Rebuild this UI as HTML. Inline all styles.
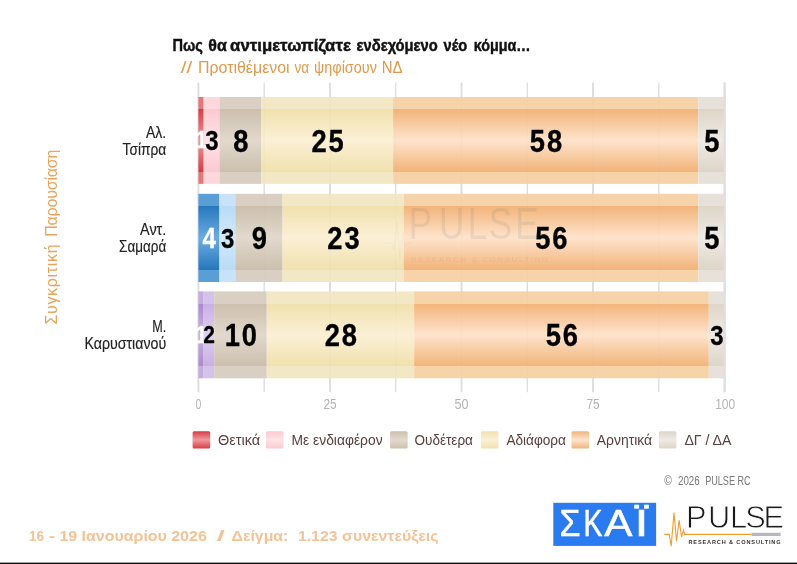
<!DOCTYPE html>
<html lang="el">
<head>
<meta charset="utf-8">
<title>Πως θα αντιμετωπίζατε ενδεχόμενο νέο κόμμα…</title>
<style>
html,body{margin:0;padding:0;background:#fff;}
body{width:797px;height:564px;overflow:hidden;}
svg{display:block;}
text{font-family:"Liberation Sans",sans-serif;}
.b{font-weight:bold;}
</style>
</head>
<body>
<svg width="797" height="564" viewBox="0 0 797 564">
<defs>
<linearGradient id="g-red" x1="0" y1="0" x2="0" y2="1"><stop offset="0" stop-color="#e4777a"/><stop offset="14.14%" stop-color="#e4777a"/><stop offset="14.14%" stop-color="#d63c44"/><stop offset="36%" stop-color="#e57478"/><stop offset="50%" stop-color="#ef9a9a"/><stop offset="64%" stop-color="#e57478"/><stop offset="85.86%" stop-color="#d63c44"/><stop offset="85.86%" stop-color="#e4777a"/><stop offset="100%" stop-color="#e4777a"/></linearGradient>
<linearGradient id="s-red" x1="0" y1="0" x2="0" y2="1"><stop offset="0" stop-color="#d63c44"/><stop offset="50%" stop-color="#ef9a9a"/><stop offset="100%" stop-color="#d63c44"/></linearGradient>
<linearGradient id="g-pink" x1="0" y1="0" x2="0" y2="1"><stop offset="0" stop-color="#fcd8dd"/><stop offset="14.14%" stop-color="#fcd8dd"/><stop offset="14.14%" stop-color="#fbc9d1"/><stop offset="36%" stop-color="#fdd9de"/><stop offset="50%" stop-color="#fee3e7"/><stop offset="64%" stop-color="#fdd9de"/><stop offset="85.86%" stop-color="#fbc9d1"/><stop offset="85.86%" stop-color="#fcd8dd"/><stop offset="100%" stop-color="#fcd8dd"/></linearGradient>
<linearGradient id="s-pink" x1="0" y1="0" x2="0" y2="1"><stop offset="0" stop-color="#fbc9d1"/><stop offset="50%" stop-color="#fee3e7"/><stop offset="100%" stop-color="#fbc9d1"/></linearGradient>
<linearGradient id="g-beige" x1="0" y1="0" x2="0" y2="1"><stop offset="0" stop-color="#d9d0c3"/><stop offset="14.14%" stop-color="#d9d0c3"/><stop offset="14.14%" stop-color="#ccbfad"/><stop offset="36%" stop-color="#d9cfc0"/><stop offset="50%" stop-color="#e2d9cd"/><stop offset="64%" stop-color="#d9cfc0"/><stop offset="85.86%" stop-color="#ccbfad"/><stop offset="85.86%" stop-color="#d9d0c3"/><stop offset="100%" stop-color="#d9d0c3"/></linearGradient>
<linearGradient id="s-beige" x1="0" y1="0" x2="0" y2="1"><stop offset="0" stop-color="#ccbfad"/><stop offset="50%" stop-color="#e2d9cd"/><stop offset="100%" stop-color="#ccbfad"/></linearGradient>
<linearGradient id="g-cream" x1="0" y1="0" x2="0" y2="1"><stop offset="0" stop-color="#f3e8c6"/><stop offset="14.14%" stop-color="#f3e8c6"/><stop offset="14.14%" stop-color="#f0e1ae"/><stop offset="36%" stop-color="#f7eac6"/><stop offset="50%" stop-color="#fbf0d6"/><stop offset="64%" stop-color="#f7eac6"/><stop offset="85.86%" stop-color="#f0e1ae"/><stop offset="85.86%" stop-color="#f3e8c6"/><stop offset="100%" stop-color="#f3e8c6"/></linearGradient>
<linearGradient id="s-cream" x1="0" y1="0" x2="0" y2="1"><stop offset="0" stop-color="#f0e1ae"/><stop offset="50%" stop-color="#fbf0d6"/><stop offset="100%" stop-color="#f0e1ae"/></linearGradient>
<linearGradient id="g-orange" x1="0" y1="0" x2="0" y2="1"><stop offset="0" stop-color="#f6d3a8"/><stop offset="14.14%" stop-color="#f6d3a8"/><stop offset="14.14%" stop-color="#f2b47a"/><stop offset="36%" stop-color="#f9d1ac"/><stop offset="50%" stop-color="#fee4cd"/><stop offset="64%" stop-color="#f9d1ac"/><stop offset="85.86%" stop-color="#f2b47a"/><stop offset="85.86%" stop-color="#f6d3a8"/><stop offset="100%" stop-color="#f6d3a8"/></linearGradient>
<linearGradient id="s-orange" x1="0" y1="0" x2="0" y2="1"><stop offset="0" stop-color="#f2b47a"/><stop offset="50%" stop-color="#fee4cd"/><stop offset="100%" stop-color="#f2b47a"/></linearGradient>
<linearGradient id="g-lgray" x1="0" y1="0" x2="0" y2="1"><stop offset="0" stop-color="#e8e1da"/><stop offset="14.14%" stop-color="#e8e1da"/><stop offset="14.14%" stop-color="#ddd5c8"/><stop offset="36%" stop-color="#e8e2d9"/><stop offset="50%" stop-color="#efeae4"/><stop offset="64%" stop-color="#e8e2d9"/><stop offset="85.86%" stop-color="#ddd5c8"/><stop offset="85.86%" stop-color="#e8e1da"/><stop offset="100%" stop-color="#e8e1da"/></linearGradient>
<linearGradient id="s-lgray" x1="0" y1="0" x2="0" y2="1"><stop offset="0" stop-color="#ddd5c8"/><stop offset="50%" stop-color="#efeae4"/><stop offset="100%" stop-color="#ddd5c8"/></linearGradient>
<linearGradient id="g-blue" x1="0" y1="0" x2="0" y2="1"><stop offset="0" stop-color="#5a9ed6"/><stop offset="14.14%" stop-color="#5a9ed6"/><stop offset="14.14%" stop-color="#2878bd"/><stop offset="36%" stop-color="#5197d3"/><stop offset="50%" stop-color="#6cabe2"/><stop offset="64%" stop-color="#5197d3"/><stop offset="85.86%" stop-color="#2878bd"/><stop offset="85.86%" stop-color="#5a9ed6"/><stop offset="100%" stop-color="#5a9ed6"/></linearGradient>
<linearGradient id="s-blue" x1="0" y1="0" x2="0" y2="1"><stop offset="0" stop-color="#2878bd"/><stop offset="50%" stop-color="#6cabe2"/><stop offset="100%" stop-color="#2878bd"/></linearGradient>
<linearGradient id="g-lblue" x1="0" y1="0" x2="0" y2="1"><stop offset="0" stop-color="#c8e3f9"/><stop offset="14.14%" stop-color="#c8e3f9"/><stop offset="14.14%" stop-color="#b9dbf7"/><stop offset="36%" stop-color="#c9e3f9"/><stop offset="50%" stop-color="#d3e9fb"/><stop offset="64%" stop-color="#c9e3f9"/><stop offset="85.86%" stop-color="#b9dbf7"/><stop offset="85.86%" stop-color="#c8e3f9"/><stop offset="100%" stop-color="#c8e3f9"/></linearGradient>
<linearGradient id="s-lblue" x1="0" y1="0" x2="0" y2="1"><stop offset="0" stop-color="#b9dbf7"/><stop offset="50%" stop-color="#d3e9fb"/><stop offset="100%" stop-color="#b9dbf7"/></linearGradient>
<linearGradient id="g-purple" x1="0" y1="0" x2="0" y2="1"><stop offset="0" stop-color="#c3addf"/><stop offset="14.14%" stop-color="#c3addf"/><stop offset="14.14%" stop-color="#a98bce"/><stop offset="36%" stop-color="#bda4da"/><stop offset="50%" stop-color="#cab4e2"/><stop offset="64%" stop-color="#bda4da"/><stop offset="85.86%" stop-color="#a98bce"/><stop offset="85.86%" stop-color="#c3addf"/><stop offset="100%" stop-color="#c3addf"/></linearGradient>
<linearGradient id="s-purple" x1="0" y1="0" x2="0" y2="1"><stop offset="0" stop-color="#a98bce"/><stop offset="50%" stop-color="#cab4e2"/><stop offset="100%" stop-color="#a98bce"/></linearGradient>
<linearGradient id="g-lpurple" x1="0" y1="0" x2="0" y2="1"><stop offset="0" stop-color="#d5c2ea"/><stop offset="14.14%" stop-color="#d5c2ea"/><stop offset="14.14%" stop-color="#c9afe3"/><stop offset="36%" stop-color="#d7c3eb"/><stop offset="50%" stop-color="#e0d0f0"/><stop offset="64%" stop-color="#d7c3eb"/><stop offset="85.86%" stop-color="#c9afe3"/><stop offset="85.86%" stop-color="#d5c2ea"/><stop offset="100%" stop-color="#d5c2ea"/></linearGradient>
<linearGradient id="s-lpurple" x1="0" y1="0" x2="0" y2="1"><stop offset="0" stop-color="#c9afe3"/><stop offset="50%" stop-color="#e0d0f0"/><stop offset="100%" stop-color="#c9afe3"/></linearGradient>
</defs>
<rect x="0" y="0" width="797" height="564" fill="#ffffff"/>
<g class="b" font-size="16.6" fill="#111" stroke="#111" stroke-width="0.45">
<text y="50.8"><tspan x="172.4" textLength="30.4" lengthAdjust="spacingAndGlyphs">Πως</tspan> <tspan x="208.3" textLength="18.5" lengthAdjust="spacingAndGlyphs">θα</tspan> <tspan x="230.1" textLength="120.8" lengthAdjust="spacingAndGlyphs">αντιμετωπίζατε</tspan> <tspan x="356.5" textLength="81.3" lengthAdjust="spacingAndGlyphs">ενδεχόμενο</tspan> <tspan x="443.5" textLength="23.8" lengthAdjust="spacingAndGlyphs">νέο</tspan> <tspan x="473.7" textLength="56.9" lengthAdjust="spacingAndGlyphs">κόμμα…</tspan></text>
</g>
<text y="72.7" font-size="16.5" fill="#e09a4c"><tspan x="180.8" textLength="11.5" lengthAdjust="spacingAndGlyphs">//</tspan> <tspan x="198.0" textLength="91.6" lengthAdjust="spacingAndGlyphs">Προτιθέμενοι</tspan> <tspan x="294.4" textLength="14.7" lengthAdjust="spacingAndGlyphs">να</tspan> <tspan x="314.0" textLength="62.9" lengthAdjust="spacingAndGlyphs">ψηφίσουν</tspan> <tspan x="381.7" textLength="20.8" lengthAdjust="spacingAndGlyphs">ΝΔ</tspan></text>
<g stroke="#dddde2">
<line x1="198.4" y1="82.6" x2="198.4" y2="392.3" stroke-width="1.9"/>
<line x1="264.2" y1="82.6" x2="264.2" y2="392.3" stroke-width="1.3"/>
<line x1="330.0" y1="82.6" x2="330.0" y2="392.3" stroke-width="1.9"/>
<line x1="395.7" y1="82.6" x2="395.7" y2="392.3" stroke-width="1.3"/>
<line x1="461.5" y1="82.6" x2="461.5" y2="392.3" stroke-width="1.9"/>
<line x1="527.3" y1="82.6" x2="527.3" y2="392.3" stroke-width="1.3"/>
<line x1="593.0" y1="82.6" x2="593.0" y2="392.3" stroke-width="1.9"/>
<line x1="658.8" y1="82.6" x2="658.8" y2="392.3" stroke-width="1.3"/>
<line x1="724.6" y1="82.6" x2="724.6" y2="392.3" stroke-width="1.9"/>
</g>
<rect x="198.40" y="97.0" width="5.26" height="86.9" fill="url(#g-red)"/>
<rect x="203.66" y="97.0" width="15.79" height="86.9" fill="url(#g-pink)"/>
<rect x="219.45" y="97.0" width="42.10" height="86.9" fill="url(#g-beige)"/>
<rect x="261.54" y="97.0" width="131.55" height="86.9" fill="url(#g-cream)"/>
<rect x="393.09" y="97.0" width="305.20" height="86.9" fill="url(#g-orange)"/>
<rect x="698.29" y="97.0" width="26.31" height="86.9" fill="url(#g-lgray)"/>
<rect x="198.40" y="193.8" width="21.05" height="88.2" fill="url(#g-blue)"/>
<rect x="219.45" y="193.8" width="15.79" height="88.2" fill="url(#g-lblue)"/>
<rect x="235.23" y="193.8" width="47.36" height="88.2" fill="url(#g-beige)"/>
<rect x="282.59" y="193.8" width="121.03" height="88.2" fill="url(#g-cream)"/>
<rect x="403.62" y="193.8" width="294.67" height="88.2" fill="url(#g-orange)"/>
<rect x="698.29" y="193.8" width="26.31" height="88.2" fill="url(#g-lgray)"/>
<rect x="198.40" y="291.4" width="5.26" height="86.9" fill="url(#g-purple)"/>
<rect x="203.66" y="291.4" width="10.52" height="86.9" fill="url(#g-lpurple)"/>
<rect x="214.19" y="291.4" width="52.62" height="86.9" fill="url(#g-beige)"/>
<rect x="266.81" y="291.4" width="147.34" height="86.9" fill="url(#g-cream)"/>
<rect x="414.14" y="291.4" width="294.67" height="86.9" fill="url(#g-orange)"/>
<rect x="708.81" y="291.4" width="15.79" height="86.9" fill="url(#g-lgray)"/>
<line x1="724.6" y1="82.6" x2="724.6" y2="392.3" stroke="#dedee3" stroke-width="2"/>
<g stroke="#b8b8cc" stroke-opacity="0.07">
<line x1="264.2" y1="97" x2="264.2" y2="378" stroke-width="1"/>
<line x1="330.0" y1="97" x2="330.0" y2="378" stroke-width="1"/>
<line x1="395.7" y1="97" x2="395.7" y2="378" stroke-width="1"/>
<line x1="461.5" y1="97" x2="461.5" y2="378" stroke-width="1"/>
<line x1="527.3" y1="97" x2="527.3" y2="378" stroke-width="1"/>
<line x1="593.0" y1="97" x2="593.0" y2="378" stroke-width="1"/>
<line x1="658.8" y1="97" x2="658.8" y2="378" stroke-width="1"/>
</g>
<g fill="#666" opacity="0.11">
<text transform="translate(0,238.9) scale(0.8,1)" font-size="43.7" x="511 548.7 584.8 611.1 644.1">PULSE</text>
<text x="411" y="261.5" font-size="7.6" textLength="137" lengthAdjust="spacing">RESEARCH &amp; CONSULTING</text>
<polyline points="385,243 392,243 394,250 397,222 400,258 403,232 405,246 407,243 411,243" fill="none" stroke="#666" stroke-width="0.6" opacity="0.6"/>
</g>
<g class="b" font-size="32.2" text-anchor="middle" stroke-width="0.35" letter-spacing="2.3">
<text transform="translate(202.0,148.4) scale(0.619,0.73)" fill="#ffffff" stroke="#ffffff">1</text>
<text transform="translate(212.7,150.1) scale(0.746,0.88)" fill="#000000" stroke="#000000">3</text>
<text transform="translate(241.8,151.5) scale(0.848,1.0)" fill="#000000" stroke="#000000">8</text>
<text transform="translate(328.6,151.5) scale(0.848,1.0)" fill="#000000" stroke="#000000">25</text>
<text transform="translate(547.0,151.5) scale(0.848,1.0)" fill="#000000" stroke="#000000">58</text>
<text transform="translate(712.7,151.5) scale(0.848,1.0)" fill="#000000" stroke="#000000">5</text>
<text transform="translate(210.1,247.7) scale(0.755,0.89)" fill="#ffffff" stroke="#ffffff">4</text>
<text transform="translate(228.5,247.6) scale(0.746,0.88)" fill="#000000" stroke="#000000">3</text>
<text transform="translate(260.2,248.9) scale(0.848,1.0)" fill="#000000" stroke="#000000">9</text>
<text transform="translate(344.4,248.9) scale(0.848,1.0)" fill="#000000" stroke="#000000">23</text>
<text transform="translate(552.3,248.9) scale(0.848,1.0)" fill="#000000" stroke="#000000">56</text>
<text transform="translate(712.7,248.9) scale(0.848,1.0)" fill="#000000" stroke="#000000">5</text>
<text transform="translate(202.0,342.8) scale(0.619,0.73)" fill="#ffffff" stroke="#ffffff">1</text>
<text transform="translate(209.9,343.3) scale(0.653,0.77)" fill="#000000" stroke="#000000">2</text>
<text transform="translate(241.8,345.9) scale(0.848,1.0)" fill="#000000" stroke="#000000">10</text>
<text transform="translate(341.8,345.9) scale(0.848,1.0)" fill="#000000" stroke="#000000">28</text>
<text transform="translate(562.8,345.9) scale(0.848,1.0)" fill="#000000" stroke="#000000">56</text>
<text transform="translate(717.9,344.5) scale(0.746,0.88)" fill="#000000" stroke="#000000">3</text>
</g>
<g font-size="15.8" fill="#222" text-anchor="end" stroke="#222" stroke-width="0.15">
<text x="166.2" y="138" textLength="20.1" lengthAdjust="spacingAndGlyphs">Αλ.</text>
<text x="166.2" y="155.3" textLength="43.7" lengthAdjust="spacingAndGlyphs">Τσίπρα</text>
<text x="166.2" y="235" textLength="26.1" lengthAdjust="spacingAndGlyphs">Αντ.</text>
<text x="166.2" y="252.3" textLength="47.1" lengthAdjust="spacingAndGlyphs">Σαμαρά</text>
<text x="166.2" y="332" textLength="14" lengthAdjust="spacingAndGlyphs">Μ.</text>
<text x="166.2" y="349.3" textLength="81.8" lengthAdjust="spacingAndGlyphs">Καρυστιανού</text>
</g>
<text transform="translate(57,324.6) rotate(-90)" font-size="16" fill="#e8a45c"><tspan x="0" textLength="80.3" lengthAdjust="spacing">Συγκριτική</tspan> <tspan x="87.8" textLength="87.2" lengthAdjust="spacing">Παρουσίαση</tspan></text>
<g font-size="14.8" fill="#b4b4b4" text-anchor="middle">
<text x="198.4" y="408.9" textLength="5.8" lengthAdjust="spacingAndGlyphs">0</text>
<text x="330.0" y="408.9" textLength="13.2" lengthAdjust="spacingAndGlyphs">25</text>
<text x="461.5" y="408.9" textLength="14" lengthAdjust="spacingAndGlyphs">50</text>
<text x="593.0" y="408.9" textLength="13.2" lengthAdjust="spacingAndGlyphs">75</text>
<text x="725.2" y="408.9" textLength="20" lengthAdjust="spacingAndGlyphs">100</text>
</g>
<g font-size="15.4" fill="#5a4040">
<rect x="192.6" y="431.2" width="17.6" height="17.4" rx="1.5" fill="url(#s-red)"/>
<text x="218.1" y="445.3" textLength="42.1" lengthAdjust="spacingAndGlyphs">Θετικά</text>
<rect x="265.9" y="431.2" width="17.6" height="17.4" rx="1.5" fill="url(#s-pink)"/>
<text x="291.5" y="445.3" textLength="91.1" lengthAdjust="spacingAndGlyphs">Με ενδιαφέρον</text>
<rect x="390.1" y="431.2" width="17.6" height="17.4" rx="1.5" fill="url(#s-beige)"/>
<text x="414.6" y="445.3" textLength="58.3" lengthAdjust="spacingAndGlyphs">Ουδέτερα</text>
<rect x="480.8" y="431.2" width="17.6" height="17.4" rx="1.5" fill="url(#s-cream)"/>
<text x="506.4" y="445.3" textLength="59.5" lengthAdjust="spacingAndGlyphs">Αδιάφορα</text>
<rect x="571.5" y="431.2" width="17.6" height="17.4" rx="1.5" fill="url(#s-orange)"/>
<text x="596.7" y="445.3" textLength="55.4" lengthAdjust="spacingAndGlyphs">Αρνητικά</text>
<rect x="658.8" y="431.2" width="17.6" height="17.4" rx="1.5" fill="url(#s-lgray)"/>
<text x="684.4" y="445.3" textLength="47.1" lengthAdjust="spacingAndGlyphs">ΔΓ / ΔΑ</text>
</g>
<g font-size="12.6" fill="#777">
<text x="664.2" y="484.8" textLength="7.6" lengthAdjust="spacingAndGlyphs">©</text>
<text x="678" y="484.8" textLength="21.7" lengthAdjust="spacingAndGlyphs">2026</text>
<text x="705.2" y="484.8" textLength="45.4" lengthAdjust="spacingAndGlyphs">PULSE RC</text>
</g>
<text class="b" y="540.6" font-size="15.4" fill="#f3c396"><tspan x="29.1" textLength="15.0" lengthAdjust="spacingAndGlyphs">16</tspan> <tspan x="48.9" textLength="6.2" lengthAdjust="spacingAndGlyphs">-</tspan> <tspan x="59.4" textLength="17.8" lengthAdjust="spacingAndGlyphs">19</tspan> <tspan x="81.5" textLength="85.4" lengthAdjust="spacingAndGlyphs">Ιανουαρίου</tspan> <tspan x="171.2" textLength="35.7" lengthAdjust="spacingAndGlyphs">2026</tspan> <tspan x="216.7" textLength="8.1" lengthAdjust="spacingAndGlyphs">/</tspan> <tspan x="231.5" textLength="56.9" lengthAdjust="spacingAndGlyphs">Δείγμα:</tspan> <tspan x="297.9" textLength="39.6" lengthAdjust="spacingAndGlyphs">1.123</tspan> <tspan x="342.1" textLength="96.4" lengthAdjust="spacingAndGlyphs">συνεντεύξεις</tspan></text>
<rect x="553.3" y="502.8" width="102.8" height="43.1" fill="#2b7bf0"/>
<text y="536.4" font-size="36.4" fill="#ffffff" stroke="#ffffff" stroke-width="0.5"><tspan x="559.5" textLength="21" lengthAdjust="spacingAndGlyphs">Σ</tspan><tspan x="583.5" textLength="19" lengthAdjust="spacingAndGlyphs">Κ</tspan><tspan x="604.3" textLength="28.2" lengthAdjust="spacingAndGlyphs">Α</tspan><tspan x="634.5" textLength="14" lengthAdjust="spacingAndGlyphs">Ϊ</tspan></text>
<polyline points="664.2,534.4 669.2,534.4 671.2,546.1 674,512.6 676.5,541.3 679.1,520.2 681.5,536.9 683.5,530.1 684.7,534.4 751.6,534.4" fill="none" stroke="#f0a030" stroke-width="1.1" stroke-linejoin="miter"/>
<rect x="751.6" y="532.8" width="29" height="3.2" fill="#b8b8c0"/>
<text y="527.5" font-size="30.8" fill="#1a1a1a" stroke="#ffffff" stroke-width="0.8" x="686 708 730 745.2 763.6">PULSE</text>
<text class="b" x="688.4" y="543.8" font-size="5.6" fill="#333" textLength="92.2" lengthAdjust="spacing">RESEARCH &amp; CONSULTING</text>
<rect x="0" y="562.6" width="797" height="1.4" fill="#111"/>
</svg>
</body>
</html>
